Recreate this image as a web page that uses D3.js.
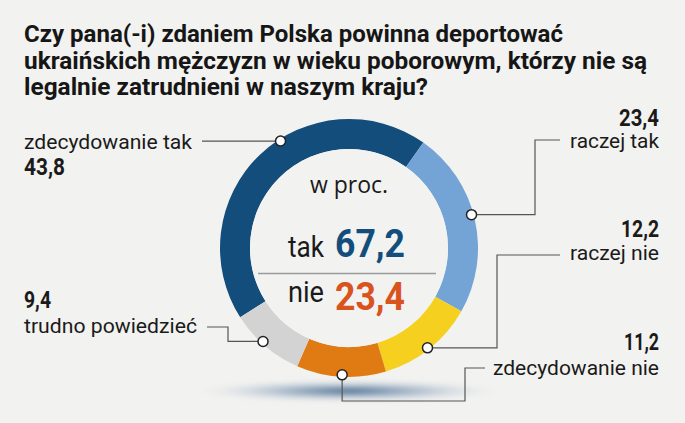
<!DOCTYPE html>
<html>
<head>
<meta charset="utf-8">
<script src="https://cdn.jsdelivr.net/npm/d3@7"></script>
<style>
  body { margin: 0; background: #f2f2f0; }
  svg { display: block; }
</style>
</head>
<body>
<svg id="chart" width="685" height="423"></svg>
<script>
// ** Data **
const titleLines = [
	"Czy pana(-i) zdaniem Polska powinna deportować",
	"ukraińskich mężczyzn w wieku poborowym, którzy nie są",
	"legalnie zatrudnieni w naszym kraju?"
];
const categories = ["zdecydowanie tak", "raczej tak", "raczej nie", "zdecydowanie nie", "trudno powiedzieć"];
const values = [43.8, 23.4, 12.2, 11.2, 9.4];
const colors = ["#134d7c", "#74a4d6", "#f5d01f", "#e07b13", "#d3d3d3"];
const summaryLabels = ["tak", "nie"];
const summaryGroups = [[0, 1], [2, 3]];   // which categories make tak / nie
const summaryColors = ["#134d7c", "#d9531e"];
const unitLabel = "w proc.";

// ** Layout constants **
const cx = 349, cy = 248;
const outerR = 129, innerR = 99, dotR = 127;
const startDeg = -122.5;
const fmt = v => d3.format(".1f")(v).replace(".", ",");

// per slice: where the dot sits inside the slice, leader elbows, label placement
const leaders = [
	{ frac: 0.57, path: p => [[202, p[1]], p], x: 24, anchor: "start", y: 149, vy: 175 },
	{ frac: 0.47, path: p => [p, [535, p[1]], [535, 140], [560, 140]], x: 659, anchor: "end", y: 148, vy: 126 },
	{ frac: 0.51, path: p => [p, [497, p[1]], [497, 255], [560, 255]], x: 659, anchor: "end", y: 260, vy: 237 },
	{ frac: 0.49, path: p => [p, [p[0], 401], [465, 401], [465, 368], [485, 368]], x: 659, anchor: "end", y: 375, vy: 350 },
	{ frac: 0.56, path: p => [p, [228, p[1]], [228, 327], [207, 327]], x: 24, anchor: "start", y: 333, vy: 308 }
];

const svg = d3.select("#chart");

// squeeze text to a given width (the original uses a condensed face)
function fit(sel, w) {
	let len = sel.node().getComputedTextLength();
	if (Math.abs(len - w) > 1) sel.attr("textLength", w).attr("lengthAdjust", "spacingAndGlyphs");
	return sel;
}

// ** Background **
svg.append("rect").attr("width", 685).attr("height", 423).attr("fill", "#f2f2f0");

// ** Title **
const titleWidths = [539, 623, 404];
titleLines.forEach(function(line, i) {
	let t = svg.append("text")
		.attr("x", 24).attr("y", 42 + i * 26.5)
		.attr("font-family", "Roboto, 'Liberation Sans', sans-serif")
		.attr("font-weight", 700)
		.attr("font-size", 23.5)
		.attr("fill", "#161616")
		.text(line);
	fit(t, titleWidths[i]);
});

// ** Shadow under the ring **
let defs = svg.append("defs");
let grad = defs.append("radialGradient").attr("id", "shadowGrad");
grad.append("stop").attr("offset", "0%").attr("stop-color", "#3f6289").attr("stop-opacity", 0.95);
grad.append("stop").attr("offset", "45%").attr("stop-color", "#7d97b3").attr("stop-opacity", 0.6);
grad.append("stop").attr("offset", "100%").attr("stop-color", "#c9d3dd").attr("stop-opacity", 0);
defs.append("filter").attr("id", "blur").attr("x", "-20%").attr("y", "-100%").attr("width", "140%").attr("height", "300%")
	.append("feGaussianBlur").attr("stdDeviation", 2.5);
svg.append("ellipse")
	.attr("cx", cx).attr("cy", 391)
	.attr("rx", 150).attr("ry", 11)
	.attr("fill", "url(#shadowGrad)")
	.attr("filter", "url(#blur)");

// ** Ring **
const pie = d3.pie().sort(null)
	.startAngle(startDeg * Math.PI / 180)
	.endAngle(startDeg * Math.PI / 180 + 2 * Math.PI);
const arcs = pie(values);
const arc = d3.arc().innerRadius(innerR).outerRadius(outerR);

const ring = svg.append("g").attr("transform", `translate(${cx},${cy})`);
ring.selectAll("path.slice")
	.data(arcs)
	.join("path")
	.attr("class", "slice")
	.attr("d", arc)
	.attr("fill", (d, i) => colors[i]);

// inner disc
ring.append("circle").attr("r", innerR).attr("fill", "#f2f2f0");

// ** Center texts **
let unit = svg.append("text")
	.attr("x", cx).attr("y", 193)
	.attr("text-anchor", "middle")
	.attr("font-family", "'Open Sans', sans-serif")
	.attr("font-size", 23)
	.attr("fill", "#1a1a1a")
	.text(unitLabel);
fit(unit, 79);

svg.append("line")
	.attr("x1", 258).attr("x2", 436)
	.attr("y1", 273.5).attr("y2", 273.5)
	.attr("stroke", "#9a9a9a").attr("stroke-width", 1.3);

const rowY = [[257, 257], [302, 310]];
summaryLabels.forEach(function(lab, i) {
	let total = d3.sum(summaryGroups[i], k => values[k]);
	let w = svg.append("text")
		.attr("x", 288).attr("y", rowY[i][0])
		.attr("font-family", "Roboto, sans-serif")
		.attr("font-size", 30)
		.attr("fill", "#1a1a1a")
		.text(lab);
	fit(w, 36);
	let n = svg.append("text")
		.attr("x", 335).attr("y", rowY[i][1])
		.attr("font-family", "Roboto, sans-serif")
		.attr("font-weight", 700)
		.attr("font-size", 38.5)
		.attr("fill", summaryColors[i])
		.text(fmt(total));
	fit(n, 70);
});

// ** Leaders, dots and labels **
const labelWidths = [168, 89, 89, 166, 173];
const valueWidths = [41, 40, 38, 35, 27];

arcs.forEach(function(a, i) {
	let L = leaders[i];
	let ang = a.startAngle + (a.endAngle - a.startAngle) * L.frac;
	let p = [cx + dotR * Math.sin(ang), cy - dotR * Math.cos(ang)];

	svg.append("path")
		.attr("d", d3.line()(L.path(p)))
		.attr("fill", "none")
		.attr("stroke", "#555")
		.attr("stroke-width", 1.2);

	svg.append("circle")
		.attr("cx", p[0]).attr("cy", p[1]).attr("r", 5)
		.attr("fill", "#fff")
		.attr("stroke", "#222")
		.attr("stroke-width", 1.5);

	let t = svg.append("text")
		.attr("x", L.x).attr("y", L.y)
		.attr("text-anchor", L.anchor)
		.attr("font-family", "Roboto, sans-serif")
		.attr("font-size", 20.5)
		.attr("fill", "#1a1a1a")
		.text(categories[i]);
	fit(t, labelWidths[i]);

	let v = svg.append("text")
		.attr("x", L.x).attr("y", L.vy)
		.attr("text-anchor", L.anchor)
		.attr("font-family", "Roboto, sans-serif")
		.attr("font-weight", 700)
		.attr("font-size", 23.5)
		.attr("fill", "#1a1a1a")
		.text(fmt(values[i]));
	fit(v, valueWidths[i]);
});
</script>
</body>
</html>
